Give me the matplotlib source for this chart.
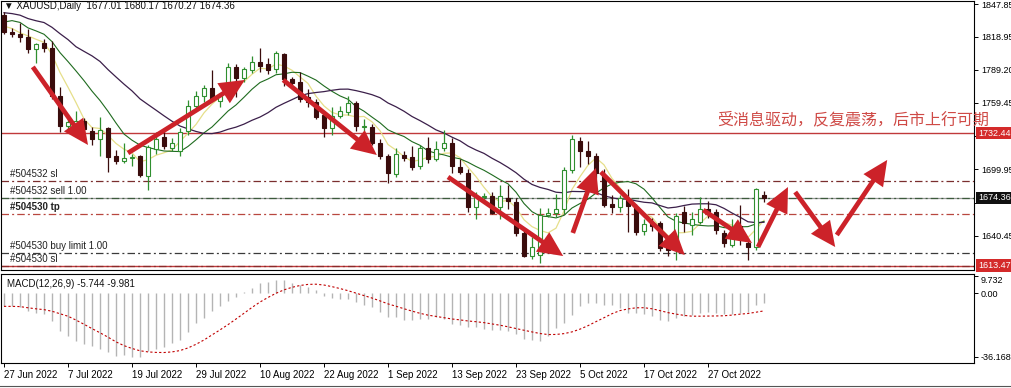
import matplotlib
matplotlib.use("Agg")
import matplotlib.pyplot as plt
import numpy as np
import pandas as pd
from matplotlib.patches import FancyArrowPatch
from matplotlib.transforms import blended_transform_factory

plt.rcParams['font.family'] = ['Liberation Sans', 'DejaVu Sans']

# daily bars, 27 Jun 2022 .. 7 Nov 2022
dates = pd.bdate_range("2022-06-27", "2022-11-07")

open_ = [1838, 1823, 1821, 1819, 1808, 1813, 1809, 1766, 1739, 1740,
         1743, 1734, 1727, 1737, 1712, 1707, 1710, 1712, 1694, 1718,
         1729, 1719, 1716, 1734, 1757, 1766, 1773, 1761, 1766, 1792,
         1782, 1789, 1796, 1794, 1790, 1803, 1781, 1778, 1765, 1760,
         1749, 1737, 1748, 1751, 1759, 1738, 1738, 1724, 1712, 1696,
         1713, 1711, 1703, 1719, 1709, 1719, 1724, 1702, 1697, 1666,
         1675, 1676, 1666, 1674, 1671, 1643, 1622, 1623, 1659, 1661,
         1664, 1699, 1725, 1716, 1712, 1695, 1669, 1666, 1673, 1666,
         1645, 1652, 1652, 1630, 1628, 1662, 1650, 1653, 1664, 1662,
         1643, 1632, 1649, 1634, 1630, 1677.01]
high = [1841, 1827, 1831, 1826, 1813, 1817, 1815, 1774, 1750, 1752,
        1746, 1738, 1747, 1738, 1717, 1724, 1714, 1713, 1722, 1733,
        1735, 1728, 1737, 1762, 1770, 1776, 1789, 1768, 1795, 1794,
        1792, 1802, 1809, 1800, 1806, 1804, 1783, 1787, 1772, 1763,
        1750, 1756, 1757, 1766, 1761, 1745, 1741, 1727, 1714, 1719,
        1716, 1721, 1722, 1729, 1725, 1735, 1728, 1709, 1700, 1680,
        1679, 1680, 1686, 1686, 1674, 1646, 1639, 1665, 1665, 1678,
        1702, 1731, 1729, 1725, 1715, 1700, 1677, 1677, 1682, 1669,
        1655, 1656, 1654, 1636, 1661, 1667, 1662, 1675, 1672, 1664,
        1646, 1655, 1668, 1638, 1683, 1680.17]
low = [1821, 1819, 1814, 1804, 1795, 1805, 1763, 1733, 1736, 1734,
       1732, 1722, 1712, 1698, 1705, 1706, 1703, 1693, 1681, 1714,
       1718, 1716, 1712, 1731, 1752, 1760, 1761, 1756, 1763, 1765,
       1778, 1786, 1787, 1785, 1786, 1775, 1774, 1760, 1756, 1745,
       1729, 1731, 1746, 1749, 1734, 1725, 1722, 1709, 1688, 1693,
       1707, 1699, 1700, 1706, 1707, 1716, 1697, 1696, 1662, 1655,
       1670, 1660, 1655, 1664, 1640, 1621, 1620, 1616, 1657, 1657,
       1660, 1697, 1702, 1705, 1692, 1666, 1661, 1662, 1644, 1641,
       1641, 1645, 1627, 1622, 1619, 1644, 1641, 1651, 1656, 1642,
       1630, 1630, 1632, 1619, 1628, 1670.27]
close_ = [1823, 1821, 1819, 1808, 1812, 1809, 1766, 1739, 1742, 1743,
          1736, 1727, 1735, 1711, 1707, 1710, 1711, 1695, 1720, 1727,
          1721, 1724, 1733, 1757, 1766, 1773, 1763, 1766, 1792, 1782,
          1790, 1796, 1793, 1789, 1804, 1781, 1777, 1763, 1760, 1747,
          1737, 1748, 1752, 1759, 1739, 1739, 1724, 1712, 1697, 1714,
          1710, 1702, 1719, 1709, 1718, 1724, 1703, 1698, 1666, 1676,
          1676, 1661, 1676, 1672, 1643, 1622, 1630, 1659, 1661, 1664,
          1699, 1727, 1716, 1712, 1697, 1668, 1666, 1674, 1667, 1644,
          1651, 1649, 1629, 1628, 1658, 1652, 1655, 1664, 1662, 1646,
          1634, 1644, 1641, 1630, 1682, 1674.36]
# closes before the visible window, only used to warm up the moving averages
june_closes = [1855, 1837, 1847, 1869, 1851, 1841, 1852, 1853, 1848, 1871,
               1819, 1808, 1835, 1857, 1839, 1839, 1832, 1838, 1822, 1827]

# MACD(12,26,9) main values
macd_main = [-7.4, -7.4, -7.8, -10.2, -11.2, -11.5, -15.8, -21.5, -24.3, -27.0,
             -28.9, -29.9, -31.7, -33.6, -35.5, -35.2, -36.0, -36.0, -32.8, -31.5,
             -30.5, -28.5, -26.8, -22.0, -16.7, -13.8, -10.0, -7.2, -4.6, -1.8,
             1.0, 3.0, 5.7, 6.6, 7.6, 7.6, 5.7, 4.8, 3.8, 2.0,
             -1.3, -2.5, -3.2, -3.2, -5.0, -6.9, -7.8, -10.6, -13.4, -13.4,
             -15.3, -15.3, -14.4, -14.4, -13.4, -14.4, -17.2, -18.0, -19.0, -19.0,
             -20.1, -21.0, -21.0, -21.4, -23.3, -26.1, -26.5, -27.1, -24.3, -19.6,
             -16.8, -12.1, -7.4, -5.5, -5.5, -6.5, -6.5, -8.3, -11.1, -11.1,
             -11.5, -13.0, -14.9, -15.8, -14.0, -13.0, -12.5, -11.0, -10.5, -11.0,
             -12.0, -11.5, -11.0, -10.5, -6.5, -5.744]

# order / level lines
level_resist = 1732.44
bid = 1674.36
orders = [("#504532 sl", 1689.5, "#7a2e2e"),
          ("#504532 sell 1.00", 1674.7, "#3c5a3c"),
          ("#504530 tp", 1659.9, "#b8473f"),
          ("#504530 buy limit 1.00", 1625.2, "#3a3a3a"),
          ("#504530 sl", 1613.47, "#8a2a2a")]

# hand drawn arrows: (bar from, price from, bar to, price to)
arrows = [(3.6, 1791.8, 10.5, 1721.8),
          (15.5, 1714.6, 30.1, 1780.1),
          (34.9, 1780.1, 46.6, 1712.8),
          (55.5, 1693.1, 69.9, 1622.2),
          (71.1, 1642.9, 74.0, 1701.2),
          (74.6, 1697.6, 85.1, 1623.1),
          (87.4, 1663.5, 93.5, 1633.9),
          (94.25, 1630.3, 98.0, 1684.1),
          (98.9, 1679.6, 103.9, 1630.3),
          (104.1, 1641.1, 110.4, 1708.4)]

price_ticks = [1640.45, 1670.20, 1699.95, 1729.70, 1759.45, 1789.20, 1818.95, 1847.85]
hidden_ticks = [1670.20, 1729.70]  # covered by the price boxes in the terminal
note = "受消息驱动，反复震荡，后市上行可期"

open_ = np.array(open_)
high = np.array(high)
low = np.array(low)
close_ = np.array(close_)
x = np.arange(len(close_))

allc = pd.Series(june_closes + list(close_))
n0 = len(june_closes)
ma5 = allc.rolling(5, min_periods=1).mean().values[n0:]
ma10 = allc.rolling(10, min_periods=1).mean().values[n0:]
ma20 = allc.rolling(20, min_periods=1).mean().values[n0:]
macd_main = np.array(macd_main)
macd_sig = pd.Series(macd_main).rolling(9, min_periods=1).mean().values

W, H = 1012, 388
fig = plt.figure(figsize=(W / 100, H / 100), dpi=100)
ax = fig.add_axes([1 / W, 1 - 270 / H, 973 / W, 269 / H])
axm = fig.add_axes([1 / W, 1 - 363 / H, 973 / W, 89 / H])

xlim = (-0.375, 121.25)

# ---- price panel ----
ax.set_xlim(*xlim)
ax.set_ylim(1609.7, 1850.9)

bear = "#3a0c0c"
bull = "#2f8f2f"
up = close_ >= open_
edge = np.where(up, bull, bear)
ax.vlines(x, low, high, colors=edge, lw=0.9, zorder=4)
body_lo = np.minimum(open_, close_)
body_h = np.maximum(np.abs(close_ - open_), 0.7)
ax.bar(x, body_h, bottom=body_lo, width=0.62, color=np.where(up, "white", bear),
       edgecolor=edge, linewidth=0.8, zorder=5)

ax.plot(x, ma5, color="#e6df8a", lw=0.9, zorder=3)
ax.plot(x, ma10, color="#1f6b1f", lw=0.8, zorder=3)
ax.plot(x, ma20, color="#3b1f4a", lw=0.9, zorder=3)

ax.axhline(level_resist, color="#c0393b", lw=1.0, zorder=2)
ax.axhline(bid, color="#9a9a9a", lw=0.9, zorder=2)
ax.axhline(1613.47, color="#c0393b", lw=1.0, zorder=2)
for name, lvl, c in orders:
    ax.axhline(lvl, color=c, lw=0.9, ls=(0, (6, 2.5, 1.6, 2.5)), zorder=2)
    ax.annotate(name, xy=(0.75, lvl), xytext=(0, 1.2), textcoords="offset points",
                ha="left", va="bottom", fontsize=7, color="#222222",
                fontweight="bold" if name.endswith("tp") else "normal", zorder=6)

for x0, y0, x1, y1 in arrows:
    ax.add_patch(FancyArrowPatch((x0, y0), (x1, y1),
                                 arrowstyle="simple,head_length=1.8,head_width=1.7,tail_width=0.34",
                                 mutation_scale=10, color="#cc2229", lw=0,
                                 shrinkA=0, shrinkB=0, zorder=7))

ax.text(89.1, 1744.5, note, family=["Noto Sans CJK SC", "DejaVu Sans"], fontsize=11.5,
        color="#cf4a46", ha="left", va="center", clip_on=False, zorder=8)

ax.text(0.003, 0.981, "\u25bc XAUUSD,Daily  1677.01 1680.17 1670.27 1674.36",
        transform=ax.transAxes, fontsize=7, ha="left", va="center", color="#111111")

ax.set_xticks([])
ax.yaxis.tick_right()
ax.set_yticks(price_ticks)
ax.set_yticklabels(["" if v in hidden_ticks else f"{v:.2f}" for v in price_ticks])
ax.tick_params(axis="y", direction="out", length=3, pad=2, labelsize=6.5, width=0.7)
for s in ax.spines.values():
    s.set_linewidth(0.8)
    s.set_color("black")

tr = blended_transform_factory(ax.transAxes, ax.transData)
for val, bg in [(level_resist, "#d42a2a"), (bid, "#111111"), (1613.47, "#d42a2a")]:
    ax.text(1.004, val, f"{val:.2f}", transform=tr, ha="left", va="center",
            fontsize=6.5, color="white", clip_on=False, zorder=9,
            bbox=dict(boxstyle="square,pad=0.2", fc=bg, ec="none"))

# ---- MACD panel ----
axm.set_xlim(*xlim)
axm.set_ylim(-39.6, 11)
axm.vlines(x, 0, macd_main, color="#b4b4b4", lw=1.0)
axm.plot(x, macd_sig, color="#c00000", lw=0.8, ls=(0, (2, 2)))
axm.text(0.006, 0.89, "MACD(12,26,9) -5.744 -9.981", transform=axm.transAxes,
         fontsize=7, ha="left", va="center", color="#111111")

axm.yaxis.tick_right()
axm.set_yticks([-36.168, 0, 9.732])
axm.set_yticklabels(["-36.168", "0.00", "9.732"])
axm.get_yticklabels()[2].set_verticalalignment("top")
axm.tick_params(axis="y", direction="out", length=3, pad=2, labelsize=6.5, width=0.7)

tick_idx = list(range(0, len(dates), 8))
axm.set_xticks(tick_idx)
axm.set_xticklabels([f"{dates[i].day} {dates[i].strftime('%b %Y')}" for i in tick_idx])
axm.tick_params(axis="x", direction="out", length=3, pad=2, labelsize=7, width=0.7)
for lab in axm.get_xticklabels():
    lab.set_horizontalalignment("left")
for s in axm.spines.values():
    s.set_linewidth(0.8)
    s.set_color("black")

fig.add_artist(plt.Line2D([0, 1], [1 - 386 / H, 1 - 386 / H], color="#555555", lw=0.8))

fig.savefig("out.png", dpi=100, facecolor="white")
